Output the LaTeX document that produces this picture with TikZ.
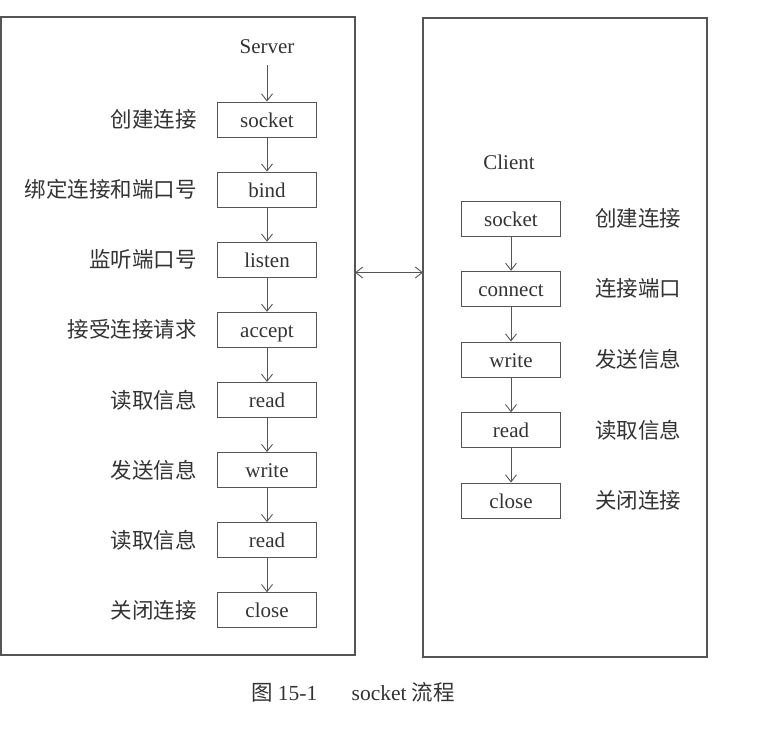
\documentclass[tikz,border=0pt]{standalone}
\usepackage{fontspec}
\setmainfont{Liberation Serif}
\newfontfamily\cjk{Noto Sans CJK SC}
\usetikzlibrary{arrows.meta}
\definecolor{ink}{HTML}{333333}
\definecolor{frame}{HTML}{555555}
\begin{document}
\begin{tikzpicture}[x=1pt,y=-1pt,
  stepbox/.style={draw=frame,line width=1pt,minimum width=99pt,minimum height=35pt,inner sep=0pt,text=ink,text height=15pt,text depth=0pt,font=\fontsize{21}{23}\selectfont},
  lbl/.style={text=ink,inner sep=0pt,font=\cjk\fontsize{21.5}{23}\selectfont},
  ttl/.style={text=ink,inner sep=0pt,font=\fontsize{21}{23}\selectfont},
  tip/.tip={Straight Barb[length=7pt,width=11pt,line width=0.9pt]},
  flow/.style={draw=frame,line width=0.9pt,-tip},
  panel/.style={draw=frame,line width=1.1pt}]
\useasboundingbox (0,0) rectangle (772,729);
\draw[panel] (1,17) rectangle (355,655);
\draw[panel] (423,18) rectangle (707,657);
% server
\node[ttl] (srv) at (267,47) {Server};
\node[stepbox] (s1) at (267,119.5) {socket};
\node[stepbox] (s2) at (267,189.6) {bind};
\node[stepbox] (s3) at (267,259.7) {listen};
\node[stepbox] (s4) at (267,329.8) {accept};
\node[stepbox] (s5) at (267,399.9) {read};
\node[stepbox] (s6) at (267,470) {write};
\node[stepbox] (s7) at (267,540.1) {read};
\node[stepbox] (s8) at (267,610.2) {close};
\node[lbl,anchor=east] (l1) at (197,119.5) {创建连接};
\node[lbl,anchor=east] (l2) at (197,189.6) {绑定连接和端口号};
\node[lbl,anchor=east] (l3) at (197,259.7) {监听端口号};
\node[lbl,anchor=east] (l4) at (197,329.8) {接受连接请求};
\node[lbl,anchor=east] (l5) at (197,399.9) {读取信息};
\node[lbl,anchor=east] (l6) at (197,470) {发送信息};
\node[lbl,anchor=east] (l7) at (197,540.1) {读取信息};
\node[lbl,anchor=east] (l8) at (197,610.2) {关闭连接};
\coordinate (sa) at (267,65);
\draw[flow] (sa) -- (s1);
\foreach \a/\b in {s1/s2,s2/s3,s3/s4,s4/s5,s5/s6,s6/s7,s7/s8} \draw[flow] (\a) -- (\b);
% client
\node[ttl] (cli) at (509,162) {Client};
\node[stepbox] (c1) at (511,218.5) {socket};
\node[stepbox] (c2) at (511,288.8) {connect};
\node[stepbox] (c3) at (511,359.5) {write};
\node[stepbox] (c4) at (511,430.2) {read};
\node[stepbox] (c5) at (511,500.5) {close};
\node[lbl,anchor=west] (r1) at (595,218.5) {创建连接};
\node[lbl,anchor=west] (r2) at (595,288.8) {连接端口};
\node[lbl,anchor=west] (r3) at (595,359.5) {发送信息};
\node[lbl,anchor=west] (r4) at (595,430.2) {读取信息};
\node[lbl,anchor=west] (r5) at (595,500.5) {关闭连接};
\foreach \a/\b in {c1/c2,c2/c3,c3/c4,c4/c5} \draw[flow] (\a) -- (\b);
% link
\coordinate (la) at (355,272.5);
\coordinate (lb) at (423,272.5);
\draw[draw=frame,line width=0.9pt,tip-tip] (la) -- (lb);
% caption
\node[text=ink,inner sep=0pt,font=\fontsize{21.5}{23}\selectfont] (cap) at (353,692) {{\cjk 图}\ 15-1\hspace{1.6em}socket\ {\cjk 流程}};
\end{tikzpicture}
\end{document}
